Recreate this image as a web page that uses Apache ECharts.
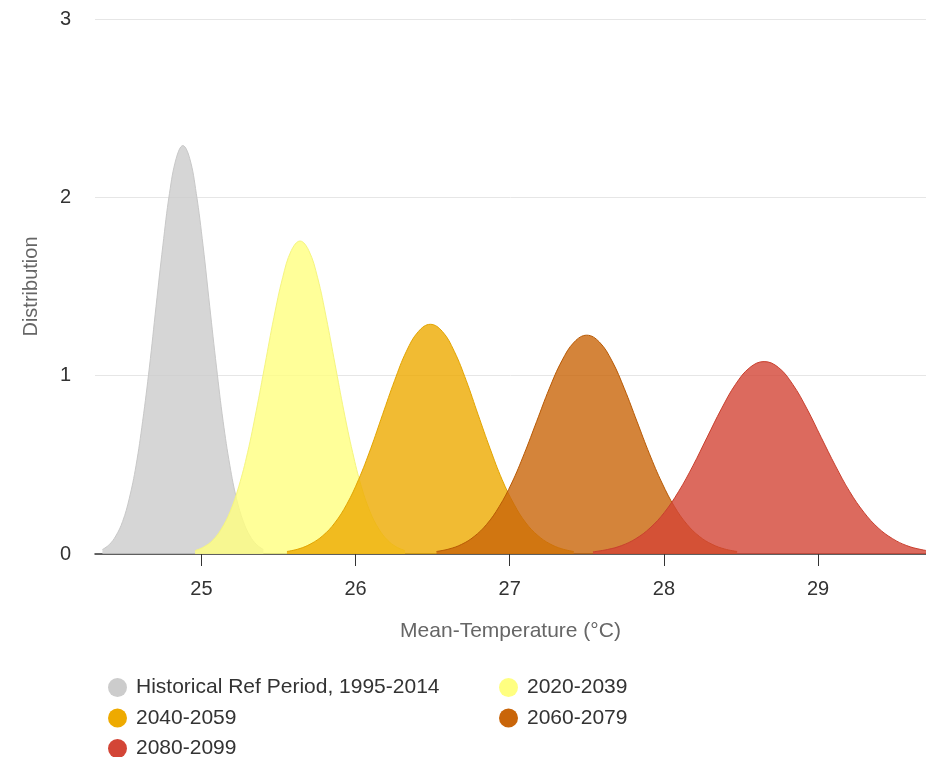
<!DOCTYPE html>
<html>
<head>
<meta charset="utf-8">
<title>Mean-Temperature Distribution</title>
<script src="https://cdn.jsdelivr.net/npm/echarts@6/dist/echarts.min.js"></script>
<style>
  html, body { margin: 0; padding: 0; background: #ffffff; }
  #chart { width: 926px; height: 757px; }
</style>
</head>
<body>
<div id="chart"></div>
<script>
// Period names (legend order)
const periods = [
  'Historical Ref Period, 1995-2014',
  '2020-2039',
  '2040-2059',
  '2060-2079',
  '2080-2099'
];

// Temperature (°C) and density for each period's distribution
const histX = [24.358, 24.402, 24.445, 24.489, 24.532, 24.576, 24.619, 24.663, 24.706, 24.750, 24.793, 24.837, 24.880, 24.924, 24.967, 25.011, 25.054, 25.098, 25.141, 25.185, 25.228, 25.272, 25.315, 25.359, 25.402];
const histY = [0.025, 0.052, 0.101, 0.182, 0.310, 0.495, 0.744, 1.048, 1.389, 1.728, 2.021, 2.219, 2.290, 2.219, 2.021, 1.728, 1.389, 1.048, 0.744, 0.495, 0.310, 0.182, 0.101, 0.052, 0.025];

const p2020X = [24.959, 25.016, 25.073, 25.129, 25.186, 25.243, 25.300, 25.356, 25.413, 25.470, 25.527, 25.583, 25.640, 25.697, 25.754, 25.810, 25.867, 25.924, 25.981, 26.037, 26.094, 26.151, 26.208, 26.264, 26.321];
const p2020Y = [0.019, 0.040, 0.077, 0.140, 0.237, 0.380, 0.570, 0.803, 1.064, 1.325, 1.549, 1.701, 1.755, 1.701, 1.549, 1.325, 1.064, 0.803, 0.570, 0.380, 0.237, 0.140, 0.077, 0.040, 0.019];

const p2040X = [25.555, 25.633, 25.710, 25.788, 25.865, 25.943, 26.020, 26.098, 26.175, 26.253, 26.330, 26.408, 26.485, 26.563, 26.640, 26.718, 26.795, 26.873, 26.950, 27.028, 27.105, 27.183, 27.260, 27.338, 27.415];
const p2040Y = [0.014, 0.029, 0.057, 0.103, 0.174, 0.279, 0.418, 0.590, 0.781, 0.972, 1.137, 1.248, 1.288, 1.248, 1.137, 0.972, 0.781, 0.590, 0.418, 0.279, 0.174, 0.103, 0.057, 0.029, 0.014];

const p2060X = [26.525, 26.606, 26.688, 26.769, 26.850, 26.931, 27.013, 27.094, 27.175, 27.256, 27.338, 27.419, 27.500, 27.581, 27.663, 27.744, 27.825, 27.906, 27.988, 28.069, 28.150, 28.231, 28.313, 28.394, 28.475];
const p2060Y = [0.014, 0.028, 0.054, 0.098, 0.166, 0.265, 0.398, 0.562, 0.744, 0.926, 1.083, 1.189, 1.227, 1.189, 1.083, 0.926, 0.744, 0.562, 0.398, 0.265, 0.166, 0.098, 0.054, 0.028, 0.014];

const p2080X = [27.540, 27.633, 27.725, 27.818, 27.910, 28.003, 28.095, 28.188, 28.280, 28.373, 28.465, 28.558, 28.650, 28.743, 28.835, 28.928, 29.020, 29.113, 29.205, 29.298, 29.390, 29.483, 29.575, 29.668, 29.760];
const p2080Y = [0.012, 0.025, 0.047, 0.086, 0.146, 0.233, 0.350, 0.494, 0.654, 0.814, 0.952, 1.046, 1.079, 1.046, 0.952, 0.814, 0.654, 0.494, 0.350, 0.233, 0.146, 0.086, 0.047, 0.025, 0.012];

// Axis tick labels
const xTicks = [25, 26, 27, 28, 29];
const yTicks = [0, 1, 2, 3];

const seriesX = [histX, p2020X, p2040X, p2060X, p2080X];
const seriesY = [histY, p2020Y, p2040Y, p2060Y, p2080Y];

const legendColors = ['#cccccc', '#ffff80', '#eeaa00', '#c96509', '#d34536'];
const lineColors = ['#c8c8c8', '#f5f580', '#e2a400', '#b85a05', '#c8402f'];

const FONT = '"Liberation Sans", Arial, sans-serif';

const series = periods.map((name, i) => ({
  name: name,
  type: 'line',
  smooth: 0.4,
  symbol: 'none',
  data: seriesX[i].map((x, j) => [x, seriesY[i][j]]),
  lineStyle: { width: 1, color: lineColors[i] },
  itemStyle: { color: legendColors[i] },
  areaStyle: { color: legendColors[i], opacity: 0.8 },
  z: 2 + i
}));

const legendBase = {
  orient: 'vertical',
  top: 672,
  height: 90,
  itemWidth: 19,
  itemHeight: 19,
  itemGap: 9.5,
  icon: 'circle',
  textStyle: { color: '#333333', fontSize: 21, lineHeight: 20, fontFamily: FONT, padding: [0, 0, 0, 4] }
};

const chart = echarts.init(document.getElementById('chart'), null, { renderer: 'canvas' });

chart.setOption({
  animation: false,
  backgroundColor: '#ffffff',
  textStyle: { fontFamily: FONT },
  grid: { left: 95, right: 0, top: 19, bottom: 203, containLabel: false },
  xAxis: {
    type: 'value',
    min: 24.31,
    max: 29.70,
    name: 'Mean-Temperature (°C)',
    nameLocation: 'middle',
    nameGap: 67,
    nameTextStyle: { color: '#666666', fontSize: 21, fontFamily: FONT },
    axisLine: { show: true, onZero: false, lineStyle: { color: '#333333', width: 1.5 } },
    axisTick: { show: true, length: 12, customValues: xTicks, lineStyle: { color: '#333333', width: 1 } },
    axisLabel: { customValues: xTicks, margin: 25, color: '#333333', fontSize: 20, fontFamily: FONT },
    splitLine: { show: false }
  },
  yAxis: {
    type: 'value',
    min: yTicks[0],
    max: yTicks[yTicks.length - 1],
    interval: 1,
    name: 'Distribution',
    nameLocation: 'middle',
    nameGap: 54,
    nameRotate: 90,
    nameTextStyle: { color: '#666666', fontSize: 20, fontFamily: FONT },
    axisLine: { show: false },
    axisTick: { show: false },
    axisLabel: { margin: 24, color: '#333333', fontSize: 20, fontFamily: FONT },
    splitLine: { show: true, lineStyle: { color: '#e6e6e6', width: 1 } }
  },
  legend: [
    Object.assign({}, legendBase, { left: 103, data: [periods[0], periods[2], periods[4]] }),
    Object.assign({}, legendBase, { left: 494, data: [periods[1], periods[3]] })
  ],
  series: series
});
</script>
</body>
</html>
